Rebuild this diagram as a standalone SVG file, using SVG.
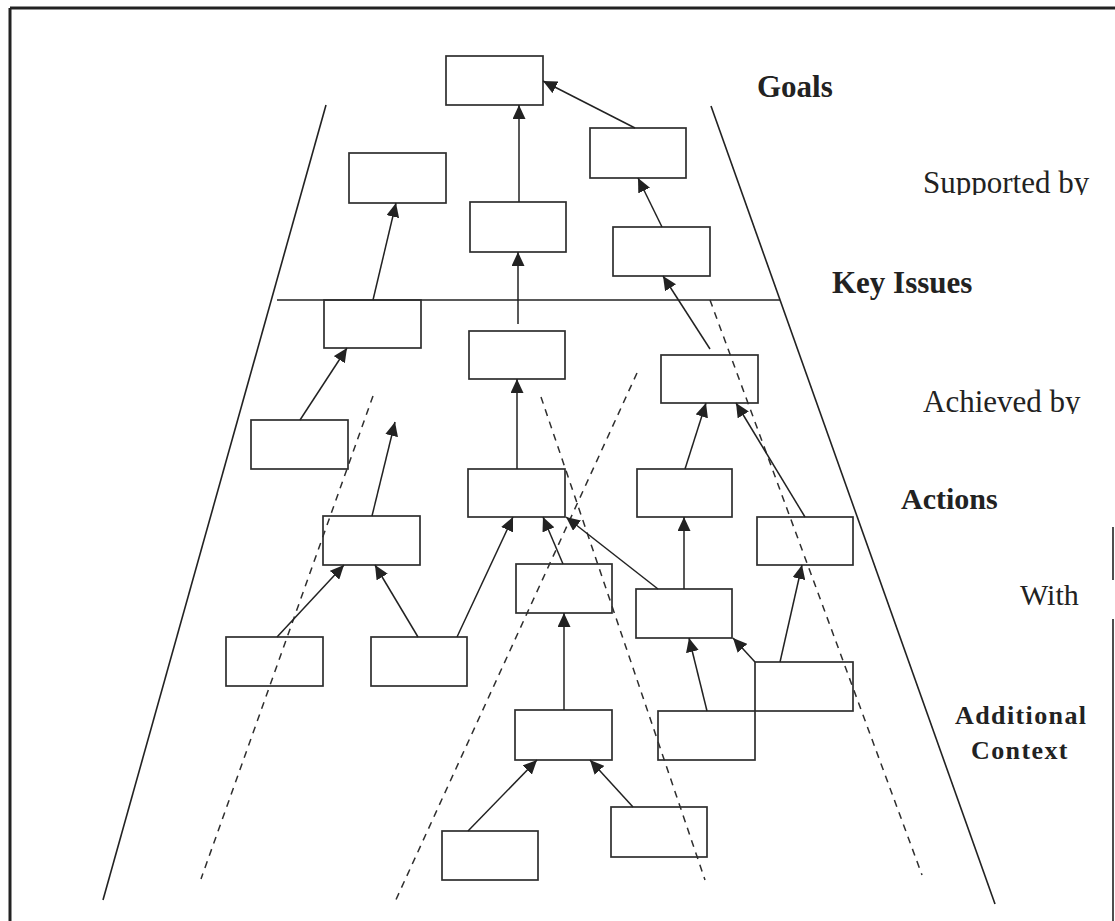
<svg xmlns="http://www.w3.org/2000/svg" width="1115" height="921" viewBox="0 0 1115 921">
  <style>
    .box{fill:none;stroke:#2e2e2e;stroke-width:1.7}
    .edge{fill:none;stroke:#222;stroke-width:1.5;marker-end:url(#ah)}
    .dash{fill:none;stroke:#2e2e2e;stroke-width:1.5;stroke-dasharray:7 6}
    .side{fill:none;stroke:#222;stroke-width:1.6}
    .frame{fill:none;stroke:#222;stroke-width:3}
    .lbl{font-family:"Liberation Serif","Times New Roman",serif;fill:#222}
    .b{font-weight:bold}
  </style>
  <defs>
    <marker id="ah" markerUnits="userSpaceOnUse" markerWidth="15" markerHeight="13" refX="14" refY="6.5" orient="auto">
      <path d="M0,0 L14,6.5 L0,13 z" fill="#222"/>
    </marker>
    <!-- labels in the source are cut at the baseline -->
    <clipPath id="cutSup"><rect x="900" y="150" width="215" height="45"/></clipPath>
    <clipPath id="cutAch"><rect x="900" y="370" width="215" height="44"/></clipPath>
  </defs>

  <rect width="1115" height="921" fill="#fff"/>

  <!-- outer frame -->
  <g id="frame">
    <line class="frame" x1="10" y1="8" x2="1115" y2="8"/>
    <line class="frame" x1="10" y1="8" x2="10" y2="921"/>
    <line class="side" x1="1113" y1="527" x2="1113" y2="580"/>
    <line class="side" x1="1113" y1="619" x2="1113" y2="921"/>
  </g>

  <!-- trapezoid outline and band divider -->
  <g id="outline">
    <line class="side" x1="326" y1="105" x2="103" y2="900"/>
    <line class="side" x1="711" y1="106" x2="995" y2="904"/>
    <line class="side" x1="277" y1="300" x2="780" y2="300"/>
  </g>

  <!-- dashed separators -->
  <g id="separators">
    <line class="dash" x1="373" y1="396" x2="201" y2="879"/>
    <line class="dash" x1="541" y1="397" x2="705" y2="880"/>
    <line class="dash" x1="637" y1="373" x2="394" y2="904"/>
    <line class="dash" x1="710" y1="300" x2="922" y2="875"/>
  </g>

  <!-- nodes -->
  <g id="n1"><rect class="box" x="446" y="56" width="97" height="49"/></g>
  <g id="n2"><rect class="box" x="590" y="128" width="96" height="50"/></g>
  <g id="n3"><rect class="box" x="349" y="153" width="97" height="50"/></g>
  <g id="n4"><rect class="box" x="470" y="202" width="96" height="50"/></g>
  <g id="n5"><rect class="box" x="613" y="227" width="97" height="49"/></g>
  <g id="n6"><rect class="box" x="324" y="300" width="97" height="48"/></g>
  <g id="n7"><rect class="box" x="469" y="331" width="96" height="48"/></g>
  <g id="n8"><rect class="box" x="661" y="355" width="97" height="48"/></g>
  <g id="n9"><rect class="box" x="251" y="420" width="97" height="49"/></g>
  <g id="n10"><rect class="box" x="468" y="469" width="97" height="48"/></g>
  <g id="n11"><rect class="box" x="637" y="469" width="95" height="48"/></g>
  <g id="n12"><rect class="box" x="323" y="516" width="97" height="49"/></g>
  <g id="n13"><rect class="box" x="757" y="517" width="96" height="48"/></g>
  <g id="n14"><rect class="box" x="516" y="564" width="96" height="49"/></g>
  <g id="n15"><rect class="box" x="636" y="589" width="96" height="49"/></g>
  <g id="n16"><rect class="box" x="226" y="637" width="97" height="49"/></g>
  <g id="n17"><rect class="box" x="371" y="637" width="96" height="49"/></g>
  <g id="n18"><rect class="box" x="755" y="662" width="98" height="49"/></g>
  <g id="n19"><rect class="box" x="658" y="711" width="97" height="49"/></g>
  <g id="n20"><rect class="box" x="515" y="710" width="97" height="50"/></g>
  <g id="n21"><rect class="box" x="611" y="807" width="96" height="50"/></g>
  <g id="n22"><rect class="box" x="442" y="831" width="96" height="49"/></g>

  <!-- connectors -->
  <g id="connectors">
    <line class="edge" x1="635" y1="128" x2="543" y2="81"/>
    <line class="edge" x1="519" y1="202" x2="519" y2="105"/>
    <line class="edge" x1="662" y1="227" x2="638" y2="178"/>
    <line class="edge" x1="373" y1="300" x2="396" y2="203"/>
    <line class="edge" x1="518" y1="324" x2="518" y2="252"/>
    <line class="edge" x1="710" y1="349" x2="663" y2="276"/>
    <line class="edge" x1="300" y1="420" x2="347" y2="348"/>
    <line class="edge" x1="517" y1="469" x2="517" y2="379"/>
    <line class="edge" x1="685" y1="469" x2="706" y2="403"/>
    <line class="edge" x1="372" y1="516" x2="395" y2="422"/>
    <line class="edge" x1="805" y1="517" x2="736" y2="403"/>
    <line class="edge" x1="563" y1="564" x2="543" y2="517"/>
    <line class="edge" x1="658" y1="589" x2="566" y2="517"/>
    <line class="edge" x1="684" y1="589" x2="684" y2="517"/>
    <line class="edge" x1="277" y1="637" x2="344" y2="565"/>
    <line class="edge" x1="418" y1="637" x2="375" y2="565"/>
    <line class="edge" x1="457" y1="637" x2="513" y2="517"/>
    <line class="edge" x1="780" y1="662" x2="802" y2="565"/>
    <line class="edge" x1="755" y1="662" x2="733" y2="638"/>
    <line class="edge" x1="707" y1="711" x2="689" y2="638"/>
    <line class="edge" x1="564" y1="710" x2="564" y2="613"/>
    <line class="edge" x1="633" y1="807" x2="590" y2="760"/>
    <line class="edge" x1="468" y1="831" x2="537" y2="760"/>
  </g>

  <!-- band labels -->
  <g id="labels">
    <text class="lbl b" x="757" y="97" font-size="31">Goals</text>
    <g clip-path="url(#cutSup)"><text class="lbl" x="923" y="193" font-size="31">Supported by</text></g>
    <text class="lbl b" x="832" y="293" font-size="31">Key Issues</text>
    <g clip-path="url(#cutAch)"><text class="lbl" x="923" y="412" font-size="31">Achieved by</text></g>
    <text class="lbl b" x="901" y="509" font-size="30">Actions</text>
    <text class="lbl" x="1020" y="605" font-size="30">With</text>
    <text class="lbl b" x="955" y="724" font-size="26" letter-spacing="1.4">Additional</text>
    <text class="lbl b" x="971" y="759" font-size="26" letter-spacing="1.4">Context</text>
  </g>
</svg>
